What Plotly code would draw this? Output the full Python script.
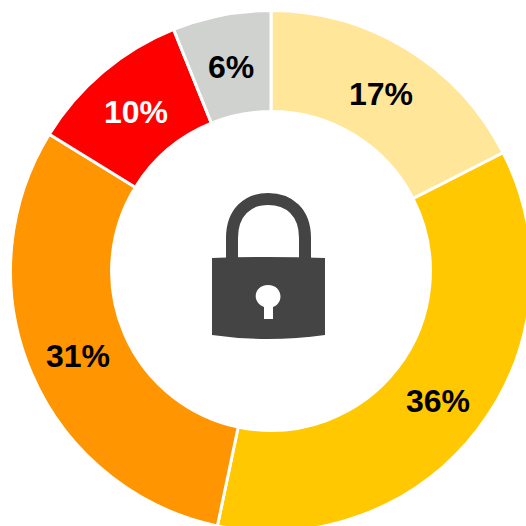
import math
import plotly.graph_objects as go

labels = ["A", "B", "C", "D", "E"]
values = [17.5, 35.8, 30.5, 10.1, 6.1]
texts = ["17%", "36%", "31%", "10%", "6%"]
colors = ["#FFE699", "#FFC800", "#FF9500", "#FF0000", "#D0D2CF"]
text_colors = ["black", "black", "black", "white", "black"]
W = 540
cx, cy, R = 271, 271, 260.5
HOLE = 0.612

def X(px):
    return px / W

def Y(py):
    return 1 - py / W

def pt(px, py):
    return f"{X(px):.5f},{Y(py):.5f}"

fig = go.Figure(go.Pie(
    labels=labels, values=values, textinfo="none",
    hole=HOLE, sort=False, direction="clockwise", rotation=0,
    marker=dict(colors=colors, line=dict(color="white", width=3)),
    showlegend=False, hoverinfo="skip",
    domain=dict(x=[X(cx - R), X(cx + R)], y=[Y(cy + R), Y(cy - R)]),
))

# slice labels at the middle of each ring segment, derived from the values
total = sum(values)
mid_r = R * (1 + HOLE) / 2
cum = 0
for v, t, c in zip(values, texts, text_colors):
    a = 2 * math.pi * (cum + v / 2) / total
    cum += v
    fig.add_annotation(
        xref="paper", yref="paper", showarrow=False,
        xanchor="center", yanchor="middle",
        x=X(cx + mid_r * math.sin(a)), y=Y(cy - mid_r * math.cos(a)), yshift=-2,
        text=f"<b>{t}</b>",
        font=dict(family="Liberation Sans", size=32, color=c),
    )

lock = "#444444"
shackle = (f"M {pt(232, 262)} L {pt(232, 238)} "
           f"C {pt(232, 212)} {pt(248, 199)} {pt(268, 199)} "
           f"C {pt(289, 199)} {pt(305, 212)} {pt(305, 238)} L {pt(305, 262)}")
fig.add_shape(type="path", xref="paper", yref="paper", path=shackle,
              line=dict(color=lock, width=12), fillcolor="rgba(0,0,0,0)")
body = (f"M {pt(212, 258)} Q {pt(268, 256)} {pt(325, 258)} L {pt(325, 335)} "
        f"Q {pt(268, 343)} {pt(212, 335)} Z")
fig.add_shape(type="path", xref="paper", yref="paper", path=body,
              fillcolor=lock, line_width=0)
key = (f"M {pt(264, 319)} L {pt(264, 307)} "
       f"C {pt(251, 302)} {pt(254, 285)} {pt(268, 285)} "
       f"C {pt(282, 285)} {pt(285, 302)} {pt(273, 307)} L {pt(273, 319)} Z")
fig.add_shape(type="path", xref="paper", yref="paper", path=key,
              fillcolor="white", line_width=0)

fig.update_layout(width=W, height=W, margin=dict(l=0, r=0, t=0, b=0),
                  paper_bgcolor="white", plot_bgcolor="white")
fig.write_html("out.html", config={"displayModeBar": False}, post_script=(
    "document.body.style.margin='0';"
    "document.documentElement.style.overflow='hidden';"
    "document.body.style.overflow='hidden';"))
